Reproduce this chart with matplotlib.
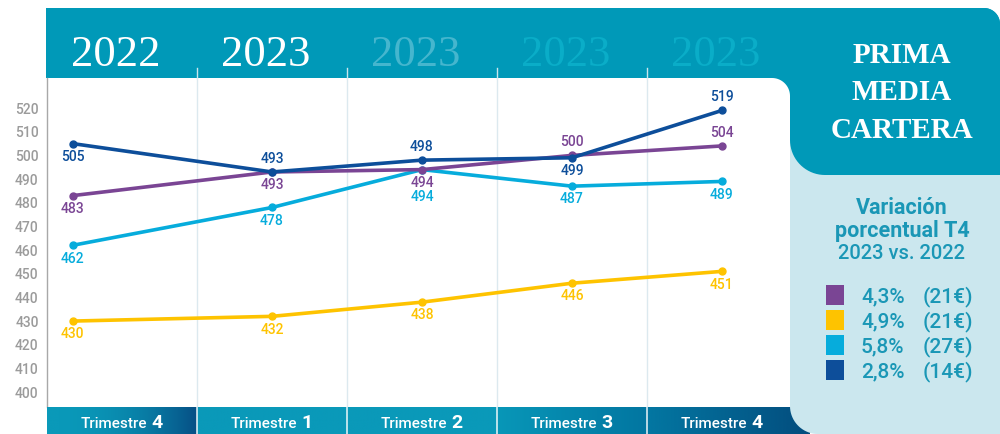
import numpy as np
import matplotlib
matplotlib.use("Agg")
import matplotlib.pyplot as plt
from matplotlib.patches import Polygon, Rectangle
from matplotlib.colors import LinearSegmentedColormap
import matplotlib.transforms as mtransforms

plt.rcParams['font.family'] = ['Roboto', 'DejaVu Sans']
plt.rcParams['font.weight'] = 'medium'

# data
years = ['2022', '2023', '2023', '2023', '2023']
quarters = ['4', '1', '2', '3', '4']
dark_blue = [505, 493, 498, 499, 519]
purple = [483, 493, 494, 500, 504]
cyan = [462, 478, 494, 487, 489]
yellow = [430, 432, 438, 446, 451]
legend_pct = ['4,3%', '4,9%', '5,8%', '2,8%']
legend_eur = ['(21€)', '(21€)', '(27€)', '(14€)']

TEAL = '#0099b8'
C_PURPLE = '#7a4594'
C_YELLOW = '#fec300'
C_CYAN = '#06acdc'
C_BLUE = '#0d4e9a'
TXT_TEAL = '#1a97b6'


def rounded_poly(x0, y0, x1, y1, r_tl=0, r_tr=0, r_br=0, r_bl=0, n=20, **kw):
    # pixel coords, y pointing down
    def arc(cx, cy, r, a0, a1):
        if r == 0:
            return [(cx, cy)]
        t = np.radians(np.linspace(a0, a1, n))
        return list(zip(cx + r * np.cos(t), cy + r * np.sin(t)))
    pts = []
    pts += arc(x0 + r_tl, y0 + r_tl, r_tl, 180, 270)
    pts += arc(x1 - r_tr, y0 + r_tr, r_tr, 270, 360)
    pts += arc(x1 - r_br, y1 - r_br, r_br, 0, 90)
    pts += arc(x0 + r_bl, y1 - r_bl, r_bl, 90, 180)
    return Polygon(pts, closed=True, **kw)


fig = plt.figure(figsize=(10, 4.34), dpi=100)

# background: teal band + white plot area
ax_bg = fig.add_axes([0, 0, 1, 1])
ax_bg.set_xlim(0, 1000)
ax_bg.set_ylim(434, 0)
ax_bg.axis('off')
ax_bg.add_patch(Rectangle((760, 70), 40, 40, color=TEAL, lw=0))
ax_bg.add_patch(rounded_poly(46, 8, 1000, 78, r_tr=16, color=TEAL, lw=0))
ax_bg.add_patch(rounded_poly(-20, 78, 790, 500, r_tr=18, color='white', lw=0))
for k in range(1, 5):
    xk = 47 + 150 * k
    ax_bg.plot([xk, xk], [68, 78], color='#c9e6ee', lw=1)

# main chart
ax = fig.add_axes([47 / 1000, 27 / 434, 743 / 1000, 329 / 434])
ax.patch.set_visible(False)
ax.set_xlim(0, 743 / 150)
ax.set_ylim(393.7, 532.7)
for k in range(1, 5):
    ax.axvline(k, color='#dce9ef', lw=1, zorder=1)

x = np.arange(5) + 0.5
x[0] = 0.17

series = [
    (yellow, C_YELLOW, [-1, -1, -1, -1, -1]),
    (cyan, C_CYAN, [-1, -1, -2.1, -1, -1]),
    (purple, C_PURPLE, [-1, -1, -1.05, 1, 1]),
    (dark_blue, C_BLUE, [-1, 1, 1, -1, 1]),
]
for vals, col, offs in series:
    ax.plot(x, vals, color=col, lw=2.6, marker='o', ms=5, zorder=3,
            solid_capstyle='round')
    for xi, v, o in zip(x, vals, offs):
        ax.annotate(str(v), (xi, v), xytext=(0, 9.5 * o), textcoords='offset points',
                    ha='center', va='center', fontsize=10, color=col, zorder=4)

ax.set_yticks(range(400, 521, 10))
ax.set_xticks([])
ax.tick_params(axis='y', length=0, pad=6, labelcolor='#9b9b9b', labelsize=10)
for s in ['top', 'right', 'bottom']:
    ax.spines[s].set_visible(False)
ax.spines['left'].set_color('#a8a8a8')
ax.spines['left'].set_linewidth(1)

# year headers
trans = mtransforms.blended_transform_factory(ax.transData, ax.transAxes)
year_cols = ['white', 'white', '#45b6ce', '#0aadc8', '#0aadc8']
for k, (yr, c) in enumerate(zip(years, year_cols)):
    ax.text(k + 0.46, 1.0365, yr, transform=trans, ha='center', va='baseline',
            fontsize=32, color=c, family='Liberation Serif', fontweight='normal',
            clip_on=False)

# bottom bar
ax_bar = fig.add_axes([47 / 1000, 0, 763 / 1000, 27 / 434])
ax_bar.axis('off')
seg_cols = [('#0a99b9', '#064f85', 2.2), ('#0a99b9', '#0a99b9', 1),
            ('#0a99b9', '#0a99b9', 1), ('#0897b8', '#0276a1', 1),
            ('#0377a2', '#034d7e', 1)]
end = 763 / 150
for k, (c0, c1, p) in enumerate(seg_cols):
    cmap = LinearSegmentedColormap.from_list('seg%d' % k, [c0, c1])
    grad = np.linspace(0, 1, 256)[None, :] ** p
    ax_bar.imshow(grad, cmap=cmap, vmin=0, vmax=1, aspect='auto',
                  extent=[k, k + 1 if k < 4 else end, 0, 1])
for k in range(1, 5):
    ax_bar.axvline(k, color='white', lw=1.2, alpha=0.85)
for k, q in enumerate(quarters):
    cx = k + 0.5
    ax_bar.text(cx + 0.17, 0.23, 'Trimestre', ha='right', va='baseline',
                fontsize=11, color='white')
    ax_bar.text(cx + 0.195, 0.23, q, ha='left', va='baseline',
                fontsize=14, color='white', fontweight='bold')
ax_bar.set_xlim(0, end)
ax_bar.set_ylim(0, 1)

# right panel
ax_top = fig.add_axes([0, 0, 1, 1])
ax_top.patch.set_visible(False)
ax_top.set_xlim(0, 1000)
ax_top.set_ylim(434, 0)
ax_top.axis('off')
ax_top.add_patch(rounded_poly(790, 120, 1000, 434, r_bl=28, color='#cbe7ee', lw=0))
ax_top.add_patch(rounded_poly(790, 8, 1000, 175, r_tr=16, r_bl=35, color=TEAL, lw=0))

for i, w in enumerate(['PRIMA', 'MEDIA', 'CARTERA']):
    ax_top.text(902, 63 + 37.5 * i, w, ha='center', va='baseline', fontsize=21,
                fontweight='bold', color='white', family='Liberation Serif')

ax_top.text(902, 214, 'Variación', ha='center', va='baseline', fontsize=15.5,
            fontweight='bold', color=TXT_TEAL)
ax_top.text(902, 237, 'porcentual T4', ha='center', va='baseline', fontsize=15.5,
            fontweight='bold', color=TXT_TEAL)
ax_top.text(902, 259, '2023 vs. 2022', ha='center', va='baseline', fontsize=14.5,
            color=TXT_TEAL)

leg_cols = [C_PURPLE, C_YELLOW, C_CYAN, C_BLUE]
for i, (pct, eur, c) in enumerate(zip(legend_pct, legend_eur, leg_cols)):
    yc = 295 + 25 * i
    ax_top.add_patch(Rectangle((826, yc - 10), 18, 20, color=c, lw=0))
    ax_top.text(861, yc + 7.5, pct, ha='left', va='baseline', fontsize=15, color=TXT_TEAL)
    ax_top.text(923, yc + 7.5, eur, ha='left', va='baseline', fontsize=15, color=TXT_TEAL)

fig.savefig('out.png', dpi=100)
